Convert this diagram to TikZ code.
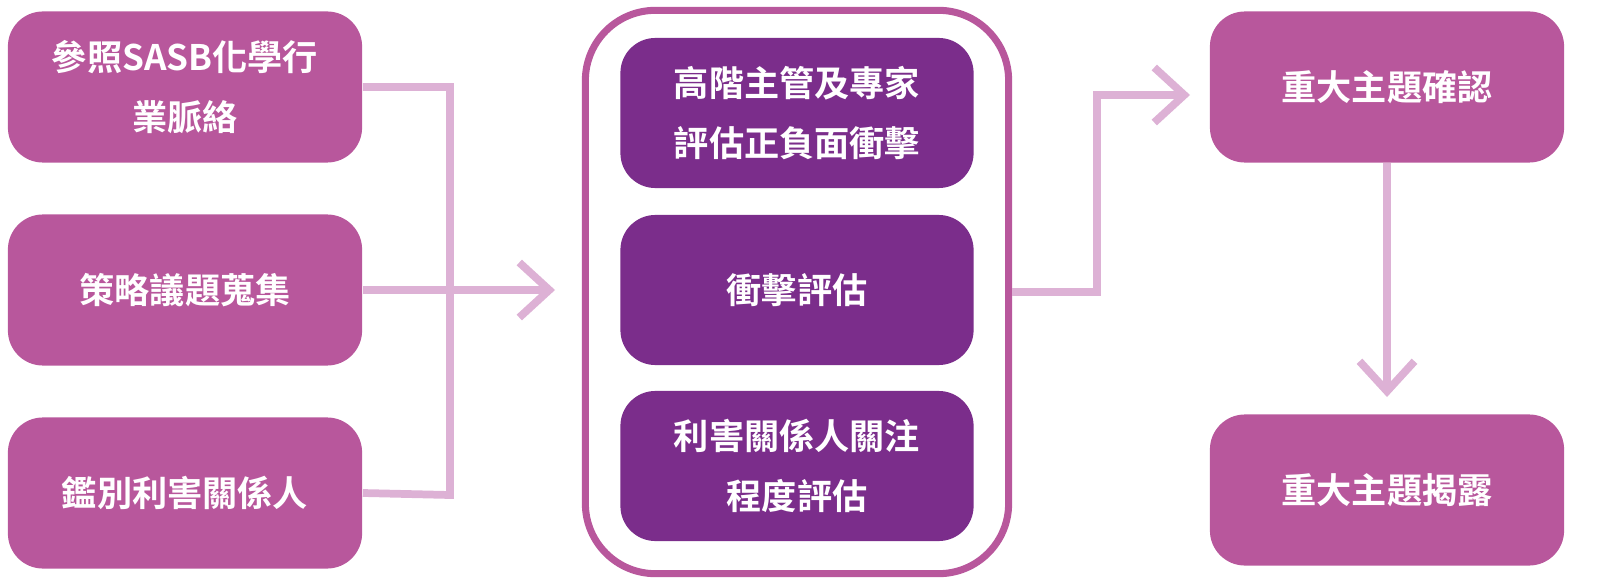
\documentclass[tikz,border=0pt]{standalone}
\usepackage{fontspec}
\newfontfamily\cjk{Noto Sans CJK TC}[BoldFont={* Bold}]
\usetikzlibrary{arrows.meta}
\definecolor{boxpink}{HTML}{B8579C}
\definecolor{boxpurple}{HTML}{7B2D8B}
\definecolor{linkpink}{HTML}{DDB1D5}
\begin{document}
\begin{tikzpicture}[x=0.01cm,y=-0.01cm,
  outerbox/.style={fill=boxpink,rounded corners=0.35cm,minimum width=3.54cm,minimum height=1.51cm,text=white,align=center,font=\cjk\bfseries\fontsize{10}{17}\selectfont},
  innerbox/.style={outerbox,fill=boxpurple,minimum width=3.53cm,minimum height=1.5cm},
  link/.style={draw=linkpink,line width=2.2pt},
  tip/.style={-{Straight Barb[length=0.3cm,width=0.55cm,line width=2.2pt]}}]

% left column
\node[outerbox] (src0) at (185,87) {參照SASB化學行\\業脈絡};
\node[outerbox] (src1) at (185,290) {策略議題蒐集};
\node[outerbox] (src2) at (185,493) {鑑別利害關係人};

% middle group
\node[draw=boxpink,line width=2pt,rounded corners=0.7cm,minimum width=4.23cm,minimum height=5.63cm] (group) at (797,292) {};
\node[innerbox] (eval0) at (797,113) {高階主管及專家\\評估正負面衝擊};
\node[innerbox] (eval1) at (797,290) {衝擊評估};
\node[innerbox] (eval2) at (797,466) {利害關係人關注\\程度評估};

% right column
\node[outerbox] (topic0) at (1387,87) {重大主題確認};
\node[outerbox] (topic1) at (1387,490) {重大主題揭露};

\coordinate (join) at (555,290);
\coordinate (entry) at (1190,95);
\coordinate (down) at (1387,397);

\path[link] (src0.east) -| (450,495) -- (src2.east);
\path[link,tip] (src1.east) -- (join);
\path[link,tip] (group.east) -| (1097,95) -- (entry);
\path[link,tip] (topic0.south) -- (down);

\pgfresetboundingbox
\useasboundingbox (0,0) rectangle (1600,585);
\end{tikzpicture}
\end{document}
